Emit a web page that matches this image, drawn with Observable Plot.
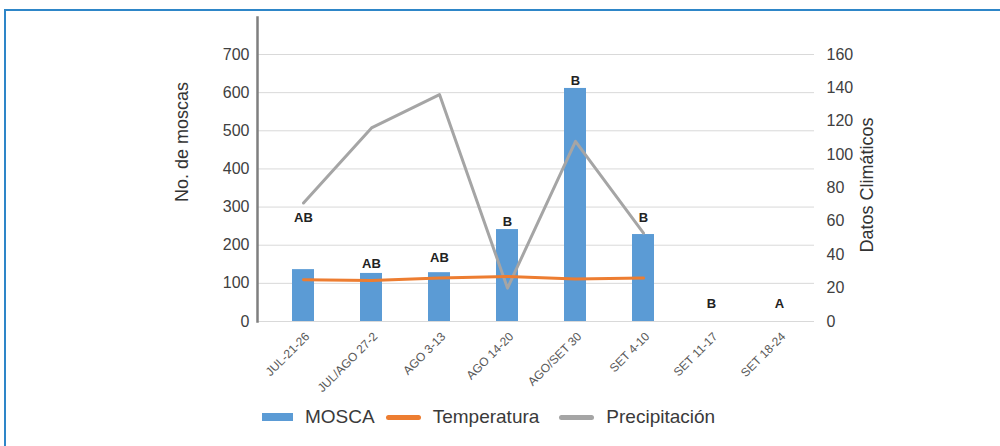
<!DOCTYPE html>
<html>
<head>
<meta charset="utf-8">
<script src="https://cdn.jsdelivr.net/npm/d3@7"></script>
<script src="https://cdn.jsdelivr.net/npm/@observablehq/plot@0.6"></script>
<style>
  html, body { margin: 0; padding: 0; background: #fff; width: 1000px; height: 446px; overflow: hidden; }
  #wrap { position: relative; width: 1000px; height: 446px; font-family: "Liberation Sans", Arial, sans-serif; }
  #border { position: absolute; left: 4px; top: 9px; width: 1100px; height: 600px; border: 2px solid #2e86c8; box-sizing: border-box; }
  #chart { position: absolute; left: 0; top: 0; }
  .ytitle { position: absolute; font-size: 18px; color: #333; white-space: nowrap; transform: translate(-50%, -50%) rotate(-90deg); }
  #legend { position: absolute; left: 262px; top: 406px; display: flex; align-items: center; font-size: 19px; color: #3a3a3a; }
  #legend .sw { display: inline-block; margin-right: 12px; }
  #legend .item { display: flex; align-items: center; margin-right: 11px; }
</style>
</head>
<body>
<div id="wrap">
  <div id="border"></div>
  <div id="chart"></div>
  <div class="ytitle" id="t1" style="left:182px; top:142px;">No. de moscas</div>
  <div class="ytitle" id="t2" style="left:867px; top:185px;">Datos Climáticos</div>
  <div id="legend"></div>
</div>
<script>
// ---- data ----
const categories = ["JUL-21-26", "JUL/AGO 27-2", "AGO 3-13", "AGO 14-20", "AGO/SET 30", "SET 4-10", "SET 11-17", "SET 18-24"];
const mosca = [136, 126, 128, 241, 611, 228, 0, 0];
const temperatura = [25, 24.5, 26, 27, 25.5, 26, null, null];
const precipitacion = [71, 116, 136, 20, 108, 53, null, null];
const letters = ["AB", "AB", "AB", "B", "B", "B", "B", "A"];
const letterHeight = [273, 152, 168, 262, 632, 273, 47, 47];
const leftTicks = [0, 100, 200, 300, 400, 500, 600, 700];
const rightTicks = [0, 20, 40, 60, 80, 100, 120, 140, 160];
const seriesNames = ["MOSCA", "Temperatura", "Precipitación"];
const seriesColors = ["#5b9bd5", "#ed7d31", "#a5a5a5"];

// right axis (0-160) maps onto left axis (0-700)
const K = 700 / 160;

const rows = categories.map((c, i) => ({
  cat: c, mosca: mosca[i], temp: temperatura[i], precip: precipitacion[i],
  letter: letters[i], ly: letterHeight[i]
}));
const lineRows = rows.filter(d => d.temp != null);

const plot = Plot.plot({
  width: 1000,
  height: 395,
  marginTop: 17,
  marginBottom: 74,
  marginLeft: 257,
  marginRight: 186,
  style: { fontFamily: "'Liberation Sans', Arial, sans-serif", color: "#404040", background: "transparent" },
  x: { domain: categories, range: [267, 814], padding: 0 },
  y: { domain: [0, 797] },
  marks: [
    Plot.gridY(leftTicks, { stroke: "#d9d9d9", strokeOpacity: 1, strokeWidth: 1 }),
    Plot.barY(rows, { x: "cat", y: "mosca", fill: seriesColors[0], insetLeft: 23, insetRight: 23 }),
    Plot.line(lineRows, { x: "cat", y: d => d.precip * K, stroke: seriesColors[2], strokeWidth: 3 }),
    Plot.line(lineRows, { x: "cat", y: d => d.temp * K, stroke: seriesColors[1], strokeWidth: 3 }),
    Plot.text(rows, { x: "cat", y: "ly", text: "letter", fontSize: 13, fontWeight: "bold", fill: "#222" }),
    Plot.frame({ anchor: "left", stroke: "#7f7f7f", strokeWidth: 2.5 }),
    Plot.axisY(leftTicks, { anchor: "left", tickSize: 0, tickPadding: 8, fontSize: 16, label: null }),
    Plot.axisY(rightTicks.map(v => v * K), { anchor: "right", tickSize: 0, tickPadding: 12, fontSize: 16, label: null,
      tickFormat: v => String(Math.round(v / K)) }),
    Plot.axisX({ anchor: "bottom", tickSize: 0, tickPadding: 13, tickRotate: -45, fontSize: 12, fill: "#595959", label: null, dx: 4 })
  ]
});
document.getElementById("chart").appendChild(plot);

// legend
const legend = document.getElementById("legend");
seriesNames.forEach((name, i) => {
  const item = document.createElement("div");
  item.className = "item";
  const sw = document.createElement("span");
  sw.className = "sw";
  if (i === 0) {
    sw.style.cssText = `width:31px;height:8px;background:${seriesColors[i]};`;
  } else {
    sw.style.cssText = `width:35px;height:5px;border-radius:3px;background:${seriesColors[i]};margin-left:${i === 2 ? 9 : 0}px;`;
  }
  const tx = document.createElement("span");
  tx.textContent = name;
  item.appendChild(sw);
  item.appendChild(tx);
  legend.appendChild(item);
});
</script>
</body>
</html>
